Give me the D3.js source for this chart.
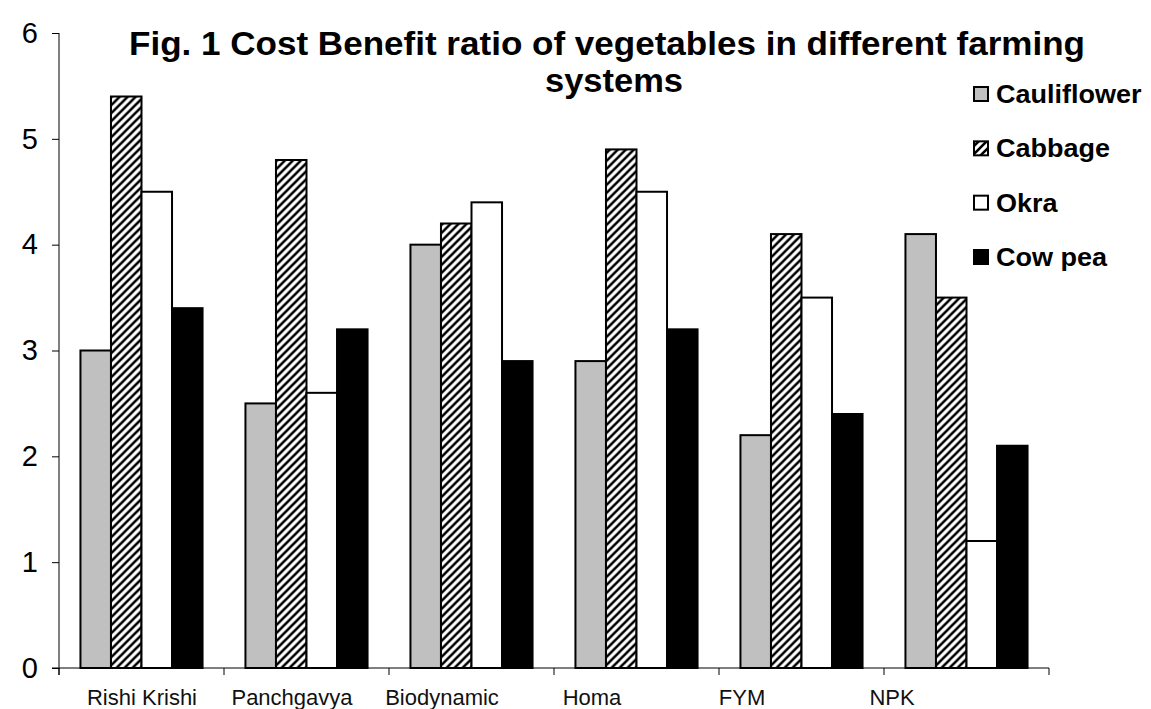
<!DOCTYPE html>
<html>
<head>
<meta charset="utf-8">
<script src="https://cdn.jsdelivr.net/npm/d3@7"></script>
<style>
  html, body { margin: 0; padding: 0; background: #fff; }
  svg { display: block; }
</style>
</head>
<body>
<svg id="chart" width="1151" height="709"></svg>
<script>
const categories = ["Rishi Krishi", "Panchgavya", "Biodynamic", "Homa", "FYM", "NPK"];
const seriesNames = ["Cauliflower", "Cabbage", "Okra", "Cow pea"];
const cauliflower = [3.0, 2.5, 4.0, 2.9, 2.2, 4.1];
const cabbage     = [5.4, 4.8, 4.2, 4.9, 4.1, 3.5];
const okra        = [4.5, 2.6, 4.4, 4.5, 3.5, 1.2];
const cowpea      = [3.4, 3.2, 2.9, 3.2, 2.4, 2.1];
const yTicks = [0, 1, 2, 3, 4, 5, 6];
const titleLines = ["Fig. 1 Cost Benefit ratio of vegetables in different farming", "systems"];

(function () {
const seriesValues = [cauliflower, cabbage, okra, cowpea];
const fills = ["#c0c0c0", "url(#hatch)", "#ffffff", "#000000"];

const svg = d3.select("#chart");
const defs = svg.append("defs");
const pat = defs.append("pattern")
  .attr("id", "hatch").attr("patternUnits", "userSpaceOnUse")
  .attr("width", 8).attr("height", 8);
pat.append("rect").attr("width", 8).attr("height", 8).attr("fill", "#fff");
pat.append("path")
  .attr("d", "M0,8 L8,0 M-2,2 L2,-2 M6,10 L10,6")
  .attr("stroke", "#000").attr("stroke-width", 2.6);

const pLeft = 59, pRight = 1049, pTop = 33, pBottom = 668;

const x0 = d3.scaleBand().domain(categories).range([pLeft, pRight]).paddingInner(0.26).paddingOuter(0.13);
const x1 = d3.scaleBand().domain(seriesNames).range([0, x0.bandwidth()]);
const y = d3.scaleLinear().domain([0, 6]).range([pBottom, pTop]);
const xEdges = d3.scaleLinear().domain([0, categories.length]).range([pLeft, pRight]);
const xLabel = d3.scalePoint().domain(categories).range([142, 892]);

// bars
categories.forEach((c, ci) => {
  const g = svg.append("g").attr("transform", `translate(${x0(c)},0)`);
  seriesNames.forEach((s, si) => {
    const v = seriesValues[si][ci];
    g.append("rect")
      .attr("x", x1(s))
      .attr("y", y(v))
      .attr("width", x1.bandwidth())
      .attr("height", y(0) - y(v))
      .attr("fill", fills[si])
      .attr("stroke", "#000")
      .attr("stroke-width", 2);
  });
});

// y axis
const yAxis = svg.append("g").attr("transform", `translate(${pLeft},0)`)
  .call(d3.axisLeft(y).tickValues(yTicks).tickSize(7).tickPadding(14).tickFormat(d3.format("d")));
yAxis.select(".domain").attr("d", `M0,${pTop}V${pBottom + 7}`);
yAxis.selectAll("line, path").attr("stroke", "#000").attr("stroke-width", 1);
yAxis.selectAll("text").attr("font-family", "Liberation Sans, Arial, sans-serif")
  .attr("font-size", 29).attr("fill", "#000");

// x axis
const xg = svg.append("g");
xg.append("line").attr("x1", pLeft - 7).attr("x2", pRight).attr("y1", pBottom).attr("y2", pBottom)
  .attr("stroke", "#000").attr("stroke-width", 1);
xg.selectAll(".xt").data(d3.range(categories.length + 1)).enter().append("line")
  .attr("x1", d => xEdges(d)).attr("x2", d => xEdges(d))
  .attr("y1", pBottom).attr("y2", pBottom + 7)
  .attr("stroke", "#000").attr("stroke-width", 1);
xg.selectAll(".xl").data(categories).enter().append("text")
  .attr("x", d => xLabel(d)).attr("y", 705)
  .attr("text-anchor", "middle")
  .attr("font-family", "Liberation Sans, Arial, sans-serif")
  .attr("font-size", 22).attr("fill", "#111")
  .text(d => d);

// title
svg.append("text").attr("x", 607).attr("y", 55).attr("text-anchor", "middle")
  .attr("font-family", "Liberation Sans, Arial, sans-serif").attr("font-weight", "bold")
  .attr("font-size", 33).attr("textLength", 956).attr("lengthAdjust", "spacingAndGlyphs")
  .text(titleLines[0]);
svg.append("text").attr("x", 614).attr("y", 92).attr("text-anchor", "middle")
  .attr("font-family", "Liberation Sans, Arial, sans-serif").attr("font-weight", "bold")
  .attr("font-size", 33).attr("textLength", 138).attr("lengthAdjust", "spacingAndGlyphs")
  .text(titleLines[1]);

// legend
const leg = svg.append("g");
const legY = d3.scalePoint().domain(seriesNames).range([94, 257]);
seriesNames.forEach((s, si) => {
  const cy = legY(s);
  leg.append("rect").attr("x", 974).attr("y", cy - 7).attr("width", 14).attr("height", 14)
    .attr("fill", fills[si]).attr("stroke", "#000").attr("stroke-width", 2);
  const t = leg.append("text").attr("x", 996).attr("y", cy + 9)
    .attr("font-family", "Liberation Sans, Arial, sans-serif").attr("font-weight", "bold")
    .attr("font-size", 25).attr("fill", "#000")
    .text(s);
  const w = t.node().getComputedTextLength();
  t.attr("textLength", w * 1.08).attr("lengthAdjust", "spacingAndGlyphs");
});
})();
</script>
</body>
</html>
